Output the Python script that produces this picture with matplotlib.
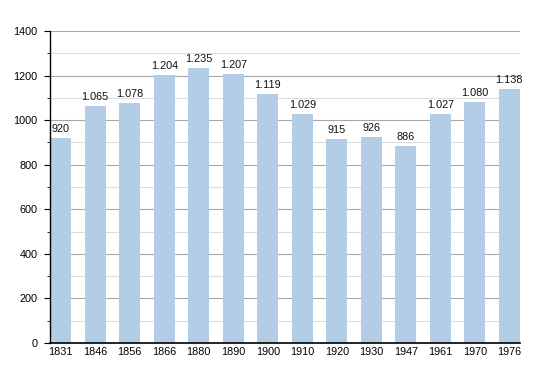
import matplotlib
matplotlib.use("Agg")
import matplotlib.pyplot as plt
from matplotlib.ticker import MultipleLocator

years = ["1831", "1846", "1856", "1866", "1880", "1890", "1900", "1910",
         "1920", "1930", "1947", "1961", "1970", "1976"]
population = [920, 1065, 1078, 1204, 1235, 1207, 1119, 1029, 915, 926, 886,
              1027, 1080, 1138]

plt.rcParams['font.family'] = ['Liberation Sans', 'DejaVu Sans']

fig = plt.figure(figsize=(5.5, 3.73), dpi=100)
ax = fig.add_axes([50/550, 30/373, 470/550, 312/373])

x = list(range(len(years)))
ax.bar(x, population, width=0.61, color="#b3cde6", zorder=2)
for xi, v in zip(x, population):
    s = f"{v:,}".replace(",", ".")
    ax.text(xi, v + 18, s, ha="center", va="bottom", fontsize=7.8, color="#111111", zorder=3)

ax.set_xlim(-0.31, len(years) - 1 + 0.31)
ax.set_ylim(0, 1400)
ax.yaxis.set_major_locator(MultipleLocator(200))
ax.yaxis.set_minor_locator(MultipleLocator(100))
ax.grid(axis="y", which="major", color="#a8a8a8", linewidth=0.8, zorder=0)
ax.grid(axis="y", which="minor", color="#dcdcdc", linewidth=0.8, zorder=0)
ax.set_xticks(x)
ax.set_xticklabels(years)
ax.tick_params(axis="x", length=0, labelsize=7.8, pad=3)
ax.tick_params(axis="y", which="major", length=4, labelsize=7.8, pad=5, direction="out")
ax.tick_params(axis="y", which="minor", length=2, direction="out")
for s in ["top", "right"]:
    ax.spines[s].set_visible(False)
ax.spines["left"].set_linewidth(1)
ax.spines["bottom"].set_linewidth(1.2)
ax.set_axisbelow(True)

fig.savefig("out.png", dpi=100)
